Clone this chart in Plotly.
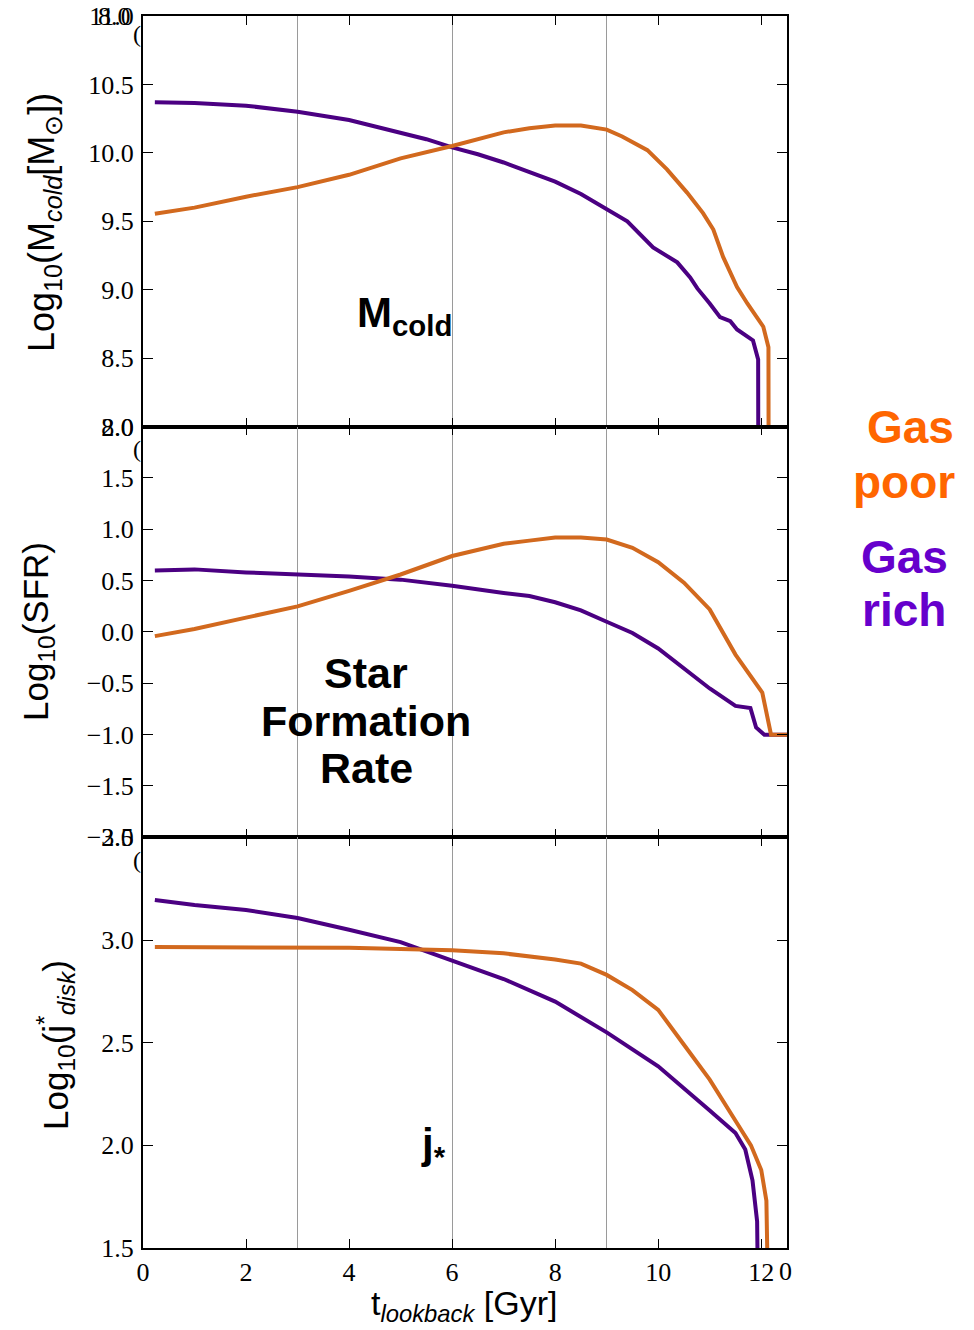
import plotly.graph_objects as go
from plotly.subplots import make_subplots

# ---------------- data ----------------
# Cold gas mass  log10(Mcold)
t_rich_m = [0.23, 1, 2, 3, 4, 5, 5.5, 6, 6.5, 7, 7.5, 8, 8.5, 8.87, 9.4, 9.9, 10.37, 10.62, 10.76, 11.0, 11.2, 11.4, 11.53, 11.84, 11.94, 11.95]
m_rich = [10.37, 10.365, 10.345, 10.30, 10.24, 10.15, 10.10, 10.04, 9.99, 9.93, 9.86, 9.79, 9.70, 9.62, 9.50, 9.31, 9.20, 9.09, 9.01, 8.90, 8.80, 8.77, 8.71, 8.63, 8.49, 6.0]
t_poor_m = [0.23, 1, 2, 3, 4, 5, 6, 7, 7.5, 8, 8.5, 9, 9.3, 9.5, 9.79, 10.17, 10.56, 10.87, 11.07, 11.26, 11.53, 11.73, 12.04, 12.14, 12.15]
m_poor = [9.555, 9.60, 9.68, 9.75, 9.84, 9.96, 10.05, 10.15, 10.18, 10.20, 10.20, 10.17, 10.12, 10.08, 10.02, 9.88, 9.71, 9.56, 9.44, 9.24, 9.02, 8.90, 8.73, 8.58, 6.0]

# Star formation rate  log10(SFR)
t_rich_s = [0.23, 1, 2, 3, 4, 5, 6, 7, 7.5, 8, 8.5, 9, 9.5, 10, 10.5, 11, 11.5, 11.79, 11.9, 12.06, 12.5]
s_rich = [0.60, 0.61, 0.58, 0.56, 0.54, 0.51, 0.45, 0.38, 0.35, 0.29, 0.21, 0.10, -0.01, -0.16, -0.35, -0.55, -0.72, -0.74, -0.93, -1.0, -1.0]
t_poor_s = [0.23, 1, 2, 3, 4, 5, 6, 6.5, 7, 7.5, 8, 8.5, 9, 9.5, 10, 10.5, 11, 11.5, 11.88, 12.02, 12.19, 12.5]
s_poor = [-0.04, 0.03, 0.14, 0.25, 0.40, 0.56, 0.74, 0.80, 0.86, 0.89, 0.92, 0.92, 0.90, 0.82, 0.68, 0.48, 0.22, -0.22, -0.50, -0.59, -1.0, -1.0]

# Stellar disc specific angular momentum  log10(j*)
t_rich_j = [0.23, 1, 2, 3, 4, 5, 6, 7, 8, 9, 10, 10.5, 11, 11.5, 11.69, 11.83, 11.92, 11.95]
j_rich = [3.195, 3.17, 3.146, 3.107, 3.05, 2.99, 2.90, 2.81, 2.70, 2.55, 2.385, 2.28, 2.17, 2.06, 1.98, 1.83, 1.63, 1.0]
t_poor_j = [0.23, 2, 3, 4, 5, 6, 7, 8, 8.5, 9, 9.5, 10, 10.5, 11, 11.5, 11.8, 12.0, 12.1, 12.15]
j_poor = [2.966, 2.966, 2.965, 2.962, 2.956, 2.95, 2.935, 2.905, 2.885, 2.83, 2.756, 2.66, 2.49, 2.32, 2.12, 2.00, 1.88, 1.73, 1.0]

x_ticks = [0, 2, 4, 6, 8, 10, 12]
grid_x = [3, 6, 9]
y1_ticks = [8.0, 8.5, 9.0, 9.5, 10.0, 10.5, 11.0]
y2_ticks = [-2.0, -1.5, -1.0, -0.5, 0.0, 0.5, 1.0, 1.5, 2.0]
y3_ticks = [1.5, 2.0, 2.5, 3.0, 3.5]

C_POOR = "#D2691E"
C_RICH = "#4B0082"
T_POOR = "#FF6600"
T_RICH = "#6600CC"

# ---------------- figure ----------------
W, H = 974, 1330
L, R, T, B = 143, 187, 16, 82
PW = W - L - R
PH = H - T - B

fig = make_subplots(rows=3, cols=1, shared_xaxes=True, vertical_spacing=0)

series = [
    (1, t_rich_m, m_rich, C_RICH), (1, t_poor_m, m_poor, C_POOR),
    (2, t_rich_s, s_rich, C_RICH), (2, t_poor_s, s_poor, C_POOR),
    (3, t_rich_j, j_rich, C_RICH), (3, t_poor_j, j_poor, C_POOR),
]
for row, xs, ys, c in series:
    fig.add_trace(go.Scatter(x=xs, y=ys, mode="lines",
                             line=dict(color=c, width=4),
                             showlegend=False, hoverinfo="skip"),
                  row=row, col=1)

tickfont = dict(family="Liberation Serif", size=26, color="black")
for r in (1, 2, 3):
    fig.update_xaxes(range=[0, 12.5], tickvals=x_ticks, ticks="inside", ticklen=9,
                     tickwidth=1.3, tickcolor="black", automargin=False,
                     showline=True, linecolor="black", linewidth=1.6, mirror="allticks",
                     showgrid=False, zeroline=False,
                     minor=dict(tickvals=grid_x, showgrid=True, gridcolor="#9a9a9a",
                                gridwidth=1, ticklen=0),
                     tickfont=tickfont, showticklabels=(r == 3),
                     row=r, col=1)
ylims = {1: ([8.0, 11.0], y1_ticks), 2: ([-2.0, 2.0], y2_ticks), 3: ([1.5, 3.5], y3_ticks)}
for r, (rng, tv) in ylims.items():
    fig.update_yaxes(range=rng, tickvals=tv, tickformat=".1f", ticks="inside", ticklen=10,
                     tickwidth=1.3, tickcolor="black", automargin=False,
                     showline=True, linecolor="black", linewidth=2, mirror="allticks",
                     showgrid=False, zeroline=False, tickfont=tickfont,
                     ticklabelstandoff=2,
                     row=r, col=1)


def px_x(p):
    return (p - L) / PW


def px_y(p):
    return 1 - (p - T) / PH


ann = []
sans = "Liberation Sans"
# y-axis titles
ann.append(dict(text="Log<sub>10</sub>(M<sub><i>cold</i></sub>[M<sub>⊙</sub>])", x=px_x(44), y=px_y(222),
                textangle=-90, font=dict(family=sans, size=36, color="black")))
ann.append(dict(text="Log<sub>10</sub>(SFR)", x=px_x(38), y=px_y(632),
                textangle=-90, font=dict(family=sans, size=35, color="black")))
ann.append(dict(text="Log<sub>10</sub>(j<sup>*</sup><sub><i>disk</i></sub>)", x=px_x(55), y=px_y(1045),
                textangle=-90, font=dict(family=sans, size=35, color="black")))
# x-axis title
ann.append(dict(text="t<sub><i>lookback</i></sub> [Gyr]", x=px_x(464), y=px_y(1305),
                font=dict(family=sans, size=34, color="black")))
# panel labels
ann.append(dict(text="<b>M<sub>cold</sub></b>", x=px_x(404), y=px_y(316),
                font=dict(family=sans, size=42, color="black")))
for word, yy in (("Star", 673), ("Formation", 721), ("Rate", 768)):
    ann.append(dict(text="<b>%s</b>" % word, x=px_x(366), y=px_y(yy),
                    font=dict(family=sans, size=43, color="black")))
ann.append(dict(text="<b>j<sub>*</sub></b>", x=px_x(433), y=px_y(1146),
                font=dict(family=sans, size=42, color="black")))
# legend texts
for word, xx, yy, col in (("Gas", 910, 427, T_POOR), ("poor", 904, 482, T_POOR),
                          ("Gas", 904, 557, T_RICH), ("rich", 904, 610, T_RICH)):
    ann.append(dict(text="<b>%s</b>" % word, x=px_x(xx), y=px_y(yy),
                    font=dict(family=sans, size=46, color=col)))
# overlapping stray labels of the original figure
ann.append(dict(text="8.0", x=px_x(133), y=px_y(16), xanchor="right",
                font=tickfont))
ann.append(dict(text="0", x=px_x(785), y=px_y(1271), font=tickfont))
for yy in (34, 449, 860):
    ann.append(dict(text="(", x=px_x(143), y=px_y(yy), xanchor="right",
                    font=dict(family="Liberation Serif", size=24, color="black")))

for a in ann:
    a.setdefault("xref", "paper")
    a.setdefault("yref", "paper")
    a.setdefault("showarrow", False)
    a.setdefault("xanchor", "center")
    a.setdefault("yanchor", "middle")
fig.update_layout(annotations=ann)

fig.update_layout(width=W, height=H, margin=dict(l=L, r=R, t=T, b=B, autoexpand=False),
                  plot_bgcolor="white", paper_bgcolor="white")

fig.write_html("out.html")
